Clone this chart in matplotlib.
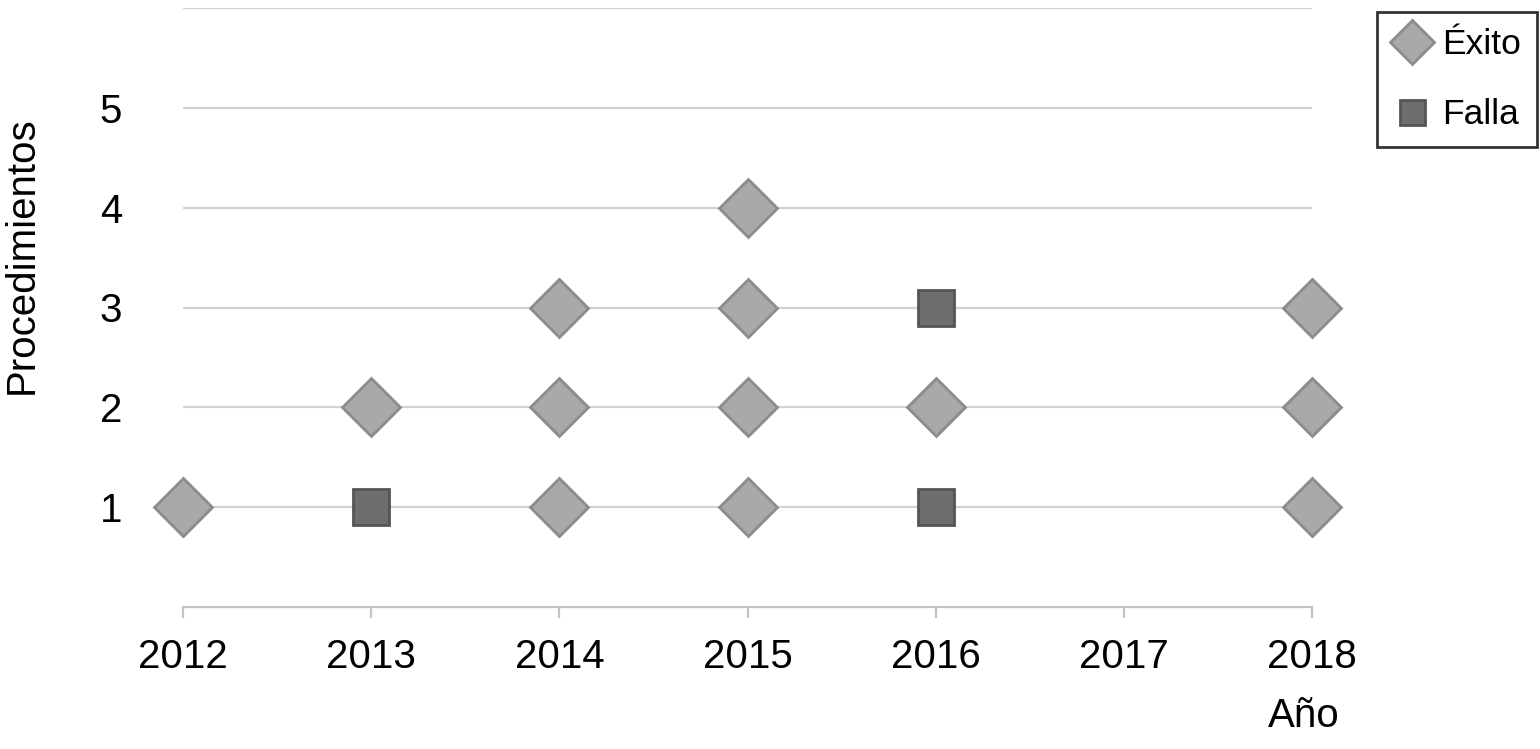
import numpy as np
import matplotlib.pyplot as plt
from matplotlib.lines import Line2D

plt.rcParams['font.family'] = ['Liberation Sans', 'DejaVu Sans']

years = [2012, 2013, 2014, 2015, 2016, 2017, 2018]

exito_year = [2012, 2013, 2014, 2014, 2014, 2015, 2015, 2015, 2015, 2016, 2018, 2018, 2018]
exito_proc = [1, 2, 1, 2, 3, 1, 2, 3, 4, 2, 1, 2, 3]

falla_year = [2013, 2016, 2016]
falla_proc = [1, 1, 3]

fig = plt.figure(figsize=(15.4, 7.49), dpi=100)
ax = fig.add_axes([183 / 1540, 1 - 607 / 749, (1312 - 183) / 1540, (607 - 8) / 749])

grid_col = '#d2d2d2'
for y in range(1, 7):
    ax.axhline(y, color=grid_col, lw=1.6, zorder=1)

ax.plot(exito_year, exito_proc, ls='none', marker='D', ms=29.5,
        mfc='#a9a9a9', mec='#8c8c8c', mew=2, zorder=3, clip_on=False)
ax.plot(falla_year, falla_proc, ls='none', marker='s', ms=26,
        mfc='#6e6e6e', mec='#555555', mew=2, zorder=3, clip_on=False)

ax.set_xlim(2012, 2018)
ax.set_ylim(0, 6)
ax.set_xticks(years)
ax.set_xticklabels([str(y) for y in years])
ax.set_yticks([1, 2, 3, 4, 5])

for s in ['top', 'right', 'left']:
    ax.spines[s].set_visible(False)
ax.spines['bottom'].set_color('#c4c4c4')
ax.spines['bottom'].set_linewidth(1.6)

ax.tick_params(axis='x', length=8, width=1.6, color='#c4c4c4', labelsize=29, pad=14)
ax.tick_params(axis='y', length=0, labelsize=29, pad=44)

fig.text(22 / 1540, 1 - 255 / 749, 'Procedimientos', rotation=90, ha='center', va='center', fontsize=29)
fig.text(1304 / 1540, 1 - 716 / 749, 'Año', ha='center', va='center', fontsize=29)

handles = [
    Line2D([], [], ls='none', marker='D', ms=22, mfc='#a9a9a9', mec='#8c8c8c', mew=2, label='Éxito'),
    Line2D([], [], ls='none', marker='s', ms=18, mfc='#6e6e6e', mec='#555555', mew=2, label='Falla'),
]
leg = fig.legend(handles=handles, loc='upper right', bbox_to_anchor=(1537 / 1540, 1 - 12 / 749),
                 fontsize=25.5, frameon=True, fancybox=False, edgecolor='black',
                 handletextpad=0.3, labelspacing=1.05, borderpad=0.45, handlelength=1.1,
                 borderaxespad=0)
leg.get_frame().set_linewidth(2)

fig.savefig('out.png', dpi=100)
